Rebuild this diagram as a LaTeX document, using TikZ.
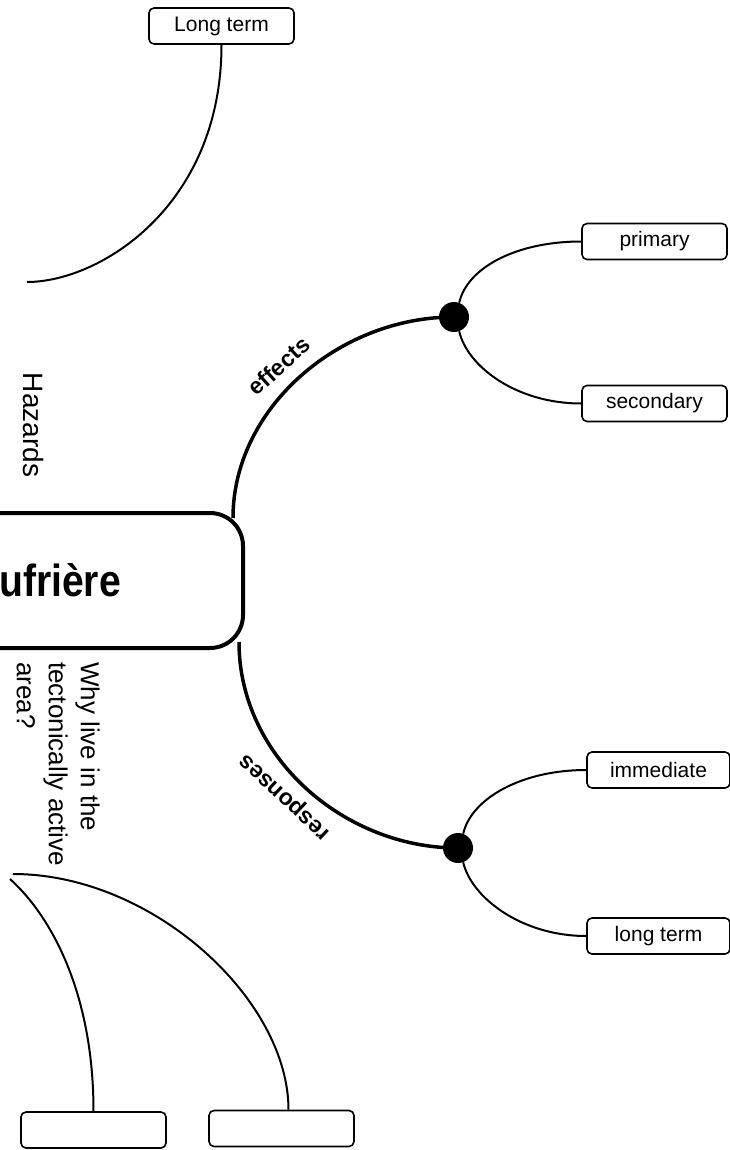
\documentclass[tikz,border=0pt]{standalone}
\usepackage{fontspec}
\setmainfont{Liberation Sans}
\usepackage{graphicx}
\usetikzlibrary{calc}
\begin{document}
\begin{tikzpicture}[x=1pt,y=-1pt,
  lbox/.style={draw, line width=1.6pt, rounded corners=5pt, minimum width=145pt, minimum height=36pt, inner sep=0pt, font=\fontsize{21}{25}\selectfont},
  mainbox/.style={draw, line width=4pt, rounded corners=33pt, minimum width=416pt, minimum height=135pt, inner sep=0pt, font=\bfseries\fontsize{45}{50}\selectfont},
  dot/.style={circle, fill=black, minimum size=30pt, inner sep=0pt},
  branchline/.style={line width=2pt},
  mainline/.style={line width=3.5pt},
  lbl/.style={font=\bfseries\fontsize{23}{27}\selectfont, inner sep=0pt},
  note/.style={font=\fontsize{26}{32}\selectfont, inner sep=0pt}
]
\useasboundingbox (0,0) rectangle (730,1150);
\clip (0,0) rectangle (730,1150);

% nodes
\node[lbox] (lt) at (221.5,26) {Long term};
\node[lbox] (prim) at (654.5,241.5) {primary};
\node[lbox] (sec) at (654.5,403.5) {secondary};
\node[lbox, minimum width=143pt] (imm) at (658.5,770) {immediate};
\node[lbox, minimum width=143pt] (ltb) at (658.5,936) {long term};
\node[lbox] (b1) at (93.5,1130) {};
\node[lbox] (b2) at (281.5,1128.5) {};
\node[mainbox] (main) at (35,580.5) {\scalebox{0.87}[1]{Soufrière}};
\node[note, font=\fontsize{28}{32}\selectfont, rotate=-90] (haz) at (34,425) {Hazards};
\node[note, rotate=-90, anchor=north west, align=left] (why) at (100,662) {Why live in the\\tectonically active\\area?};
\node[lbl, rotate=42] (eff) at (279,366) {effects};
\node[lbl, rotate=137] (resp) at (286,796) {responses};

% free ends
\coordinate (e0) at ($(main.north east)+(-12,7)$);
\coordinate (r0) at ($(main.south east)+(-6,-8)$);
\coordinate (c1) at (27,282);
\coordinate (cA) at (13,874);
\coordinate (cB) at (10,879);

% connectors
\draw[mainline] (e0) .. controls +(0,-110) and +(-115,0) .. (454,317) coordinate (d1c);
\draw[mainline] (r0) .. controls +(0,115) and +(-114,0) .. (458,848) coordinate (d2c);
\node[dot] (d1) at (d1c) {};
\node[dot] (d2) at (d2c) {};
\draw[branchline] (d1.70) .. controls +(8,-35) and +(-65,0) .. (prim.west);
\draw[branchline] (d1.-70) .. controls +(8,35) and +(-65,0) .. (sec.west);
\draw[branchline] (d2.70) .. controls +(8,-35) and +(-65,0) .. (imm.west);
\draw[branchline] (d2.-70) .. controls +(8,35) and +(-65,0) .. (ltb.west);
\draw[branchline] (lt.south) .. controls +(0,161) and +(73,0) .. (c1);
\draw[branchline] (cA) .. controls +(140,0) and +(0,-110) .. ($(b2.north)+(7,0)$);
\draw[branchline] (cB) .. controls +(40,36) and +(0,-120) .. (b1.north);
\end{tikzpicture}
\end{document}
